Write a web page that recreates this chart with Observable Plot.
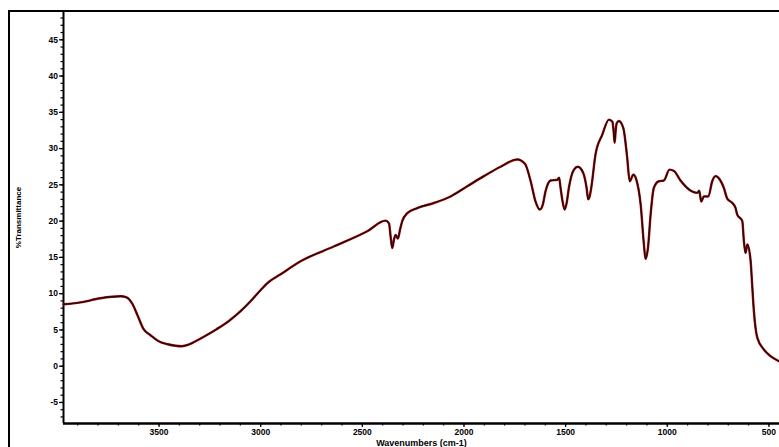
<!DOCTYPE html>
<html>
<head>
<meta charset="utf-8">
<script src="https://cdn.jsdelivr.net/npm/d3@7"></script>
<script src="https://cdn.jsdelivr.net/npm/@observablehq/plot@0.6"></script>
<style>
  html, body { margin: 0; padding: 0; background: #fff; }
  #wrap { position: relative; width: 779px; height: 447px; overflow: hidden; }
  #box { position: absolute; left: 8px; top: 10px; width: 900px; height: 600px; border: 2px solid #000; box-sizing: border-box; }
  #chart { position: absolute; left: 0; top: 0; }
  svg { font-family: "Liberation Sans", Arial, sans-serif; }
</style>
</head>
<body>
<div id="wrap"><div id="box"></div><div id="chart"></div></div>
<script>
// Wavenumber (cm-1) and %Transmittance
const wavenumber = [3970, 3886, 3788, 3689, 3660, 3630, 3606, 3576, 3542, 3502, 3458, 3419, 3389, 3355, 3325, 3271, 3217, 3158, 3099, 3050, 3001, 2962, 2902, 2804, 2641, 2476, 2386, 2369, 2361, 2353, 2344, 2336, 2325, 2314, 2304, 2279, 2230, 2148, 2066, 1984, 1902, 1820, 1738, 1700, 1672, 1648, 1627, 1613, 1599, 1574, 1541, 1532, 1525, 1515, 1505, 1495, 1484, 1459, 1440, 1413, 1397, 1389, 1382, 1374, 1353, 1320, 1287, 1270, 1264, 1259, 1254, 1249, 1238, 1216, 1197, 1185, 1167, 1152, 1131, 1115, 1107, 1095, 1082, 1066, 1041, 1017, 989, 967, 935, 885, 852, 843, 833, 820, 798, 779, 762, 741, 722, 705, 680, 664, 656, 631, 623, 615, 606, 590, 582, 574, 557, 525, 492, 451];
const transmittance = [8.54, 8.8, 9.37, 9.64, 9.5, 8.54, 7.02, 5.1, 4.27, 3.44, 3.03, 2.82, 2.75, 2.96, 3.37, 4.2, 5.1, 6.2, 7.58, 8.95, 10.47, 11.57, 12.67, 14.46, 16.5, 18.6, 20.07, 19.7, 17.9, 16.3, 17.5, 18.1, 17.6, 18.9, 19.97, 21.1, 21.8, 22.5, 23.4, 24.8, 26.2, 27.5, 28.5, 27.9, 25.5, 22.7, 21.6, 22.2, 24.1, 25.6, 25.7, 26.0, 24.6, 22.7, 21.6, 22.5, 24.6, 27.1, 27.5, 26.6, 24.6, 23.0, 23.4, 24.6, 29.2, 31.9, 34.0, 33.7, 32.4, 30.8, 32.4, 33.5, 33.8, 32.8, 28.7, 25.5, 26.4, 25.7, 22.3, 16.8, 14.8, 16.3, 20.9, 24.6, 25.5, 25.6, 27.1, 26.9, 25.6, 24.2, 23.9, 24.2, 22.7, 23.4, 23.4, 25.5, 26.2, 25.7, 24.6, 23.1, 22.5, 21.8, 20.9, 20.0, 17.2, 15.6, 16.8, 14.5, 11.0, 7.6, 3.9, 2.3, 1.38, 0.69];
const xTicks = [3500, 3000, 2500, 2000, 1500, 1000, 500];
const yTicks = [-5, 0, 5, 10, 15, 20, 25, 30, 35, 40, 45];
const xMinor = d3.range(500, 4000, 100);
const yMinor = d3.range(-7, 49, 1);
const xDomain = [3970, 448];
const yDomain = [-7.9, 48.9];
const xTitle = "Wavenumbers (cm-1)";
const yTitle = "%Transmittance";

const data = wavenumber.map((w, i) => ({w, t: transmittance[i]}));

const chart = Plot.plot({
  width: 779,
  height: 447,
  marginLeft: 63,
  marginTop: 11,
  marginRight: 0,
  marginBottom: 24,
  style: {background: "transparent", fontFamily: "Liberation Sans, Arial, sans-serif"},
  x: {domain: xDomain},
  y: {domain: yDomain},
  marks: [
    Plot.axisX({ticks: xMinor, tickSize: 2.5, tickFormat: () => "", label: null, strokeWidth: 1.2}),
    Plot.axisX({ticks: xTicks, tickSize: 4, tickPadding: 1.5, tickFormat: d => String(d), fontSize: 8.5, fontWeight: "bold",
      label: xTitle, labelArrow: "none", labelAnchor: "center", labelOffset: 22, strokeWidth: 1.2}),
    Plot.axisY({ticks: yMinor, tickSize: 2.5, tickFormat: () => "", label: null, strokeWidth: 1.2}),
    Plot.axisY({ticks: yTicks, tickSize: 4, tickPadding: 1.5, tickFormat: d => String(d), fontSize: 8.5, fontWeight: "bold",
      label: yTitle, labelArrow: "none", labelAnchor: "center", labelOffset: 48, strokeWidth: 1.2}),
    Plot.ruleX([xDomain[0]], {stroke: "#000", strokeWidth: 2}),
    Plot.ruleY([yDomain[0]], {stroke: "#000", strokeWidth: 2.5}),
    Plot.line(data, {x: "w", y: "t", stroke: "#c40000", strokeWidth: 2.4, curve: "monotone-x"}),
    Plot.line(data, {x: "w", y: "t", stroke: "#111", strokeWidth: 1.3, curve: "monotone-x"})
  ]
});
// make axis-label text bold and sized like the reference
chart.querySelectorAll("g[aria-label='x-axis label'] text, g[aria-label='y-axis label'] text").forEach(t => {
  t.setAttribute("font-weight", "bold");
});
const xl = chart.querySelector("g[aria-label='x-axis label']");
if (xl) xl.setAttribute("font-size", "9");
const yl = chart.querySelector("g[aria-label='y-axis label']");
if (yl) yl.setAttribute("font-size", "8");
document.getElementById("chart").appendChild(chart);
</script>
</body>
</html>
